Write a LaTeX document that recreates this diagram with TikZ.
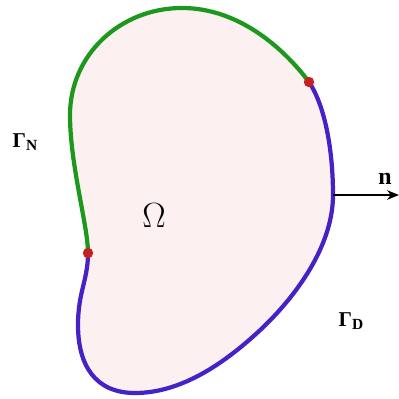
\documentclass[tikz,border=0pt]{standalone}
\usepackage{fontspec}
\usepackage{xcolor}
\usepackage{tikz}
\usetikzlibrary{arrows.meta}
\newfontfamily\timesfont{Liberation Serif}

\definecolor{domfill}{HTML}{FCF0F0}
\definecolor{neucol}{HTML}{1C991C}
\definecolor{dircol}{HTML}{4422C6}
\definecolor{dotcol}{HTML}{C42222}

\newcommand{\bdlabel}[1]{{\timesfont\bfseries Γ\raisebox{-0.35ex}{\fontsize{11}{12}\selectfont #1}}}

\begin{document}
\begin{tikzpicture}[x=0.025cm, y=-0.025cm,
  neu/.style={draw=neucol, line width=3pt},
  dir/.style={draw=dircol, line width=3pt},
  junction/.style={circle, fill=dotcol, inner sep=0pt, minimum size=0.26cm},
  lbl/.style={font=\fontsize{15}{17}\selectfont, inner sep=1pt},
  >={Stealth[length=3mm, width=2.4mm]}]
\useasboundingbox (0,0) rectangle (399,399);
% domain
\fill[domfill] (88,253) .. controls (88,226) and (70,165) .. (70,115)
  .. controls (70,55) and (120,8) .. (182,8)
  .. controls (240,8) and (285,50) .. (309,82)
  .. controls (325,106) and (333,150) .. (333,195)
  .. controls (333,250) and (290,303) .. (257,333)
  .. controls (222,365) and (180,393) .. (135,393)
  .. controls (95,393) and (78,365) .. (78,325)
  .. controls (78,292) and (88,280) .. (88,253) -- cycle;
% Neumann part
\draw[neu] (88,253) .. controls (88,226) and (70,165) .. (70,115)
  .. controls (70,55) and (120,8) .. (182,8)
  .. controls (240,8) and (285,50) .. (309,82);
% Dirichlet part
\draw[dir] (309,82) .. controls (325,106) and (333,150) .. (333,195)
  .. controls (333,250) and (290,303) .. (257,333)
  .. controls (222,365) and (180,393) .. (135,393)
  .. controls (95,393) and (78,365) .. (78,325)
  .. controls (78,292) and (88,280) .. (88,253);
\node[junction] (top) at (309,82) {};
\node[junction] (bot) at (88,253) {};
% normal
\coordinate (foot) at (333,195);
\coordinate (tip) at (399,195);
\draw[->, line width=1.3pt] (foot) -- (tip);
\node[lbl] (n) at (385,179) {\timesfont\bfseries\fontsize{17}{19}\selectfont n};
% labels
\node[lbl] (gn) at (25,142) {\bdlabel{N}};
\node[lbl] (gd) at (351,321) {\bdlabel{D}};
\node[font=\fontsize{29}{31}\selectfont] (om) at (154,216) {$\Omega$};
\end{tikzpicture}
\end{document}
